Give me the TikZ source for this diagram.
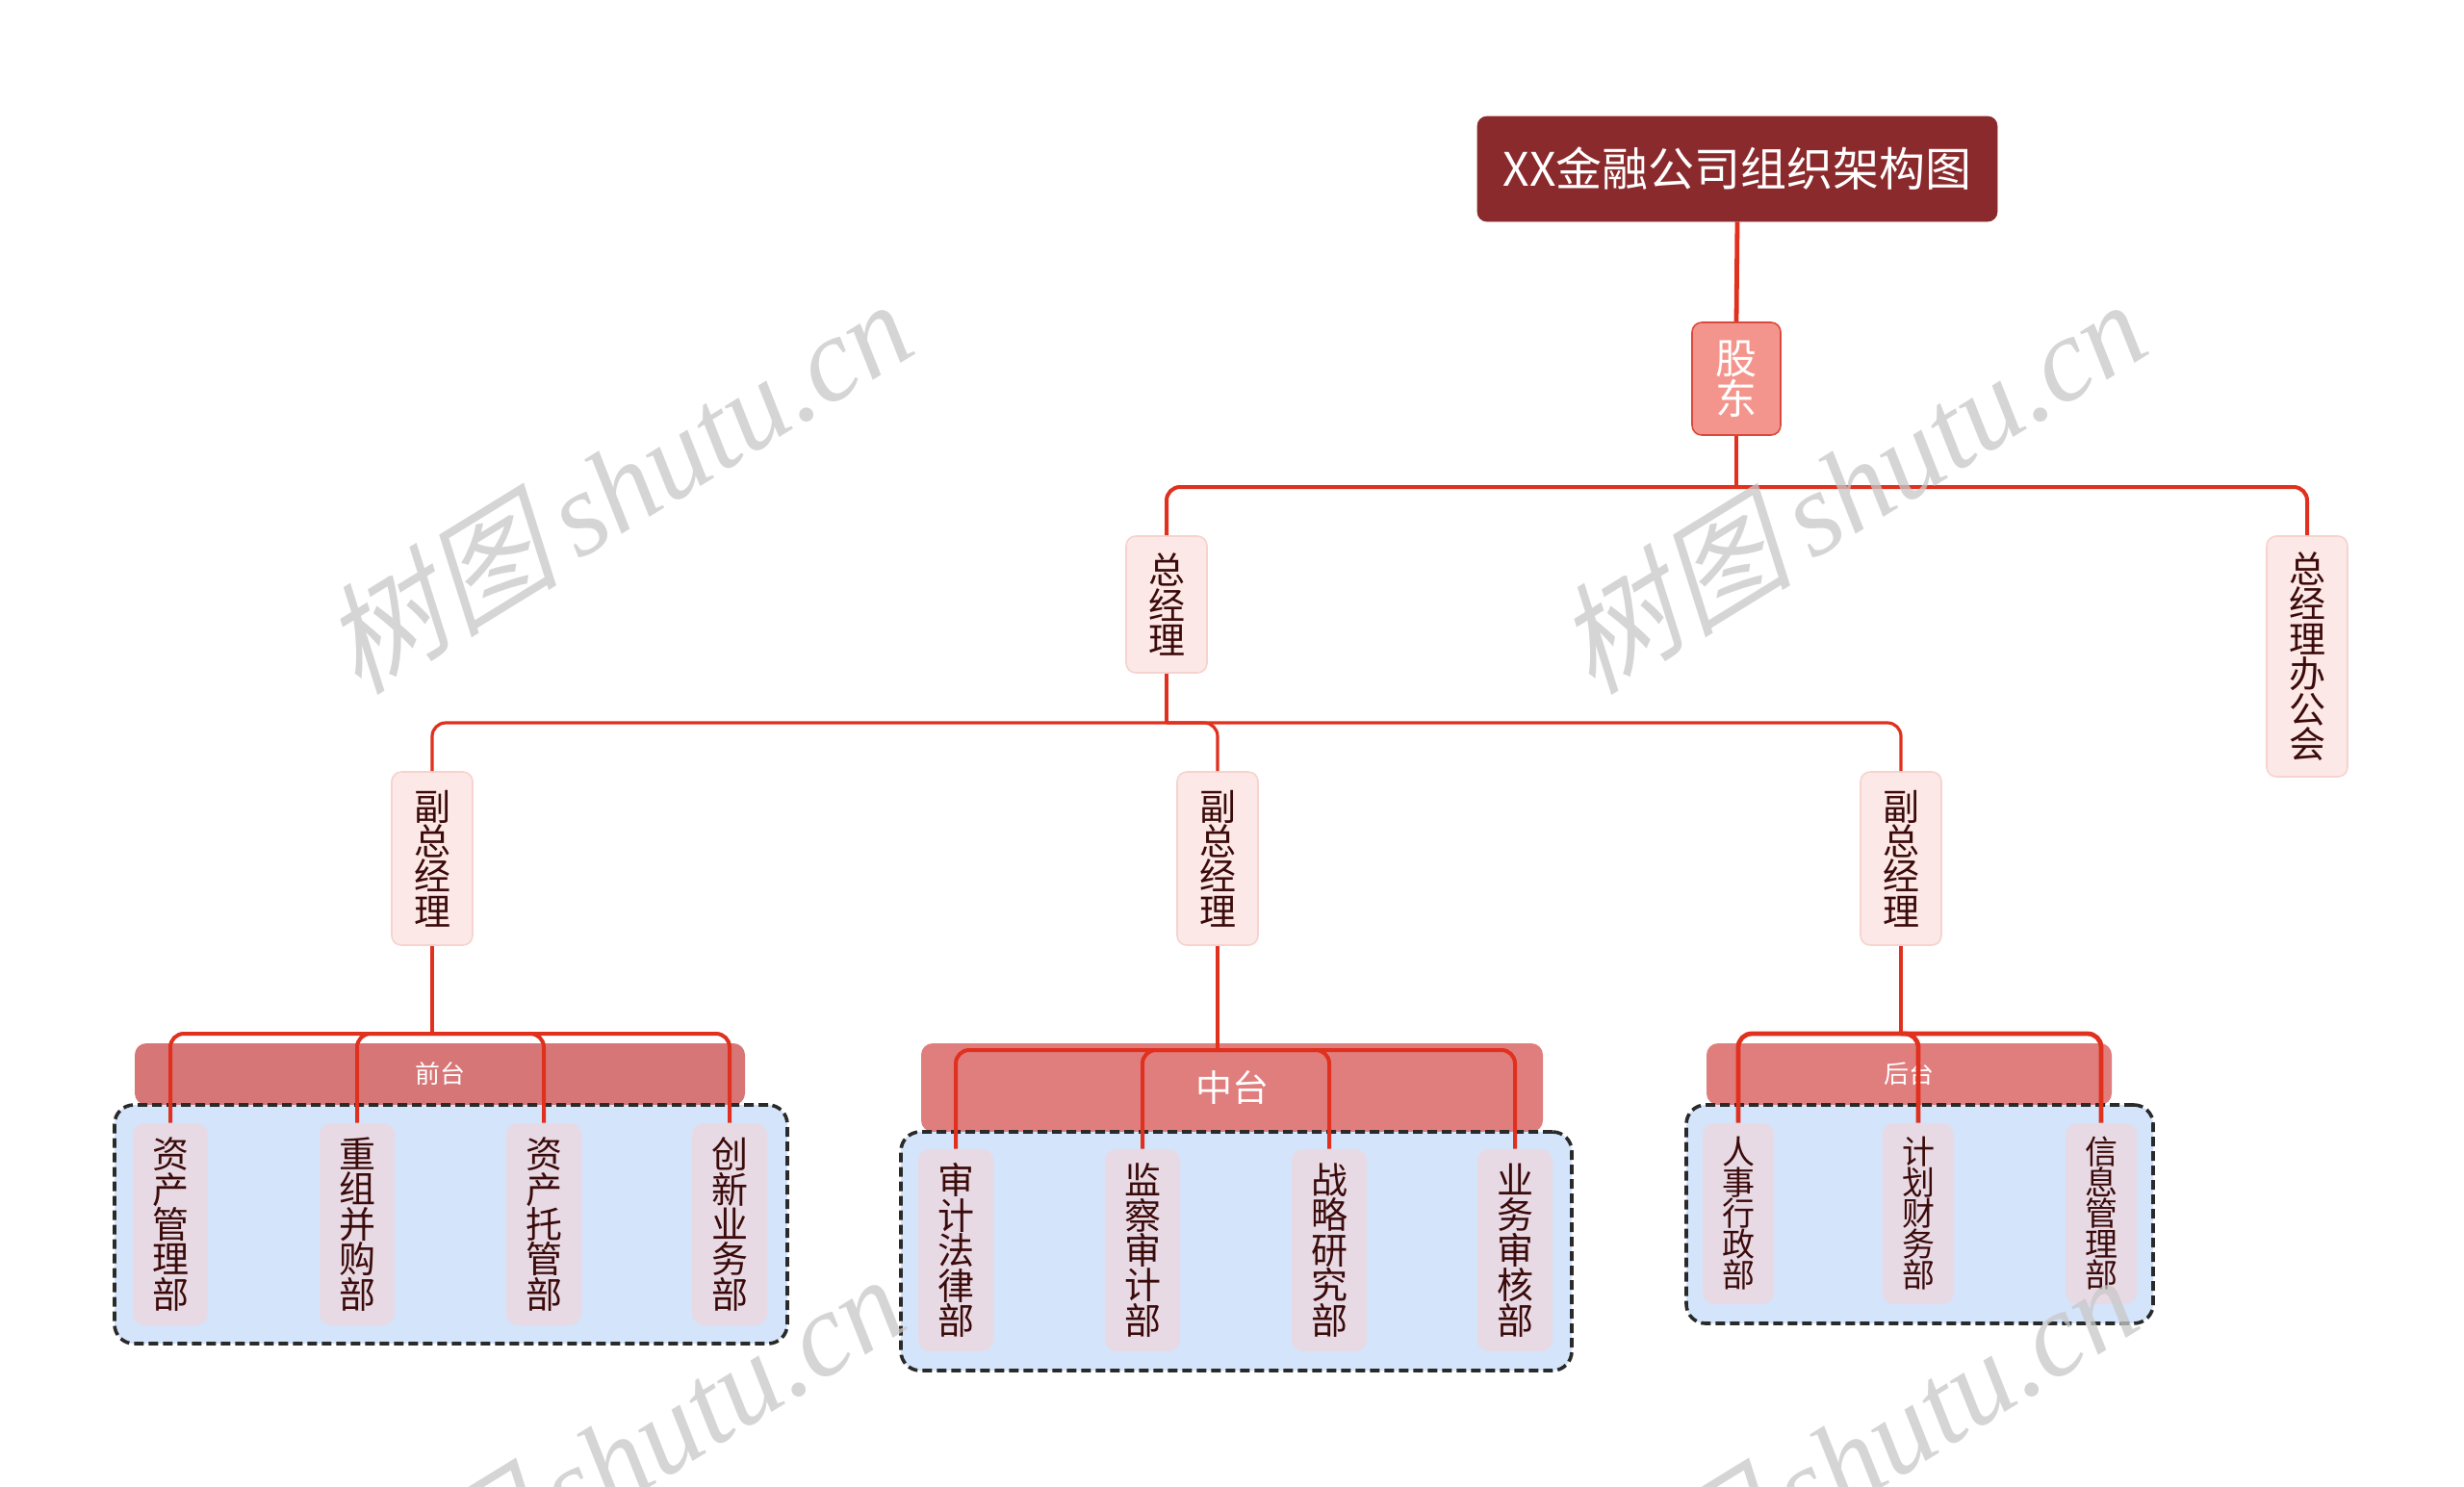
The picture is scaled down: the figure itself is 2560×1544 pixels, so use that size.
\documentclass[tikz,border=0pt]{standalone}
\usepackage{fontspec}
\newfontfamily\cjk{Noto Sans CJK SC}
\newfontfamily\wmcjk[FakeSlant=0.25]{Noto Sans CJK SC}
\newfontfamily\wmlat{Liberation Serif}
\definecolor{titlered}{HTML}{8B2A2C}
\definecolor{salmon}{HTML}{F4958D}
\definecolor{salmonborder}{HTML}{D94A3E}
\definecolor{pinkfill}{HTML}{FCE8E6}
\definecolor{pinkborder}{HTML}{F6D3CF}
\definecolor{deptfill}{HTML}{E8DAE4}
\definecolor{darktext}{HTML}{3B0B0B}
\definecolor{hdrA}{HTML}{D77676}
\definecolor{hdrB}{HTML}{E07D7D}
\definecolor{boxblue}{HTML}{D4E4FA}
\definecolor{dashgray}{HTML}{2A2A2A}
\definecolor{linered}{HTML}{E0301E}
\definecolor{wmgray}{HTML}{C8C8C8}
\begin{document}
\begin{tikzpicture}[x=0.5pt,y=-0.5pt,
  titlebox/.style={fill=titlered, draw=titlered, rounded corners=5pt, minimum width=270pt, minimum height=54.5pt, inner sep=0pt, text=white, font=\cjk\fontsize{24}{28}\selectfont},
  sharebox/.style={fill=salmon, draw=salmonborder, line width=0.8pt, rounded corners=5pt, minimum width=46pt, minimum height=58.5pt, inner sep=0pt, text=white, align=center, font=\cjk\fontsize{21.5}{21}\selectfont},
  mgrbox/.style={fill=pinkfill, draw=pinkborder, line width=0.8pt, rounded corners=5pt, minimum width=42pt, inner sep=0pt, text=darktext, align=center, font=\cjk\fontsize{19}{18.2}\selectfont},
  deptbox/.style={fill=deptfill, rounded corners=6pt, minimum width=39pt, inner sep=0pt, text=darktext, align=center, font=\cjk\fontsize{19}{18.2}\selectfont},
  smalldept/.style={deptbox, minimum width=37pt, font=\cjk\fontsize{17}{16}\selectfont},
  hdrbox/.style={rounded corners=6pt, inner sep=0pt, text=white},
  grpbox/.style={fill=boxblue, draw=dashgray, dash pattern=on 5pt off 2.5pt, line width=1.8pt, rounded corners=10pt, inner sep=0pt},
  conn/.style={draw=linered, line width=2pt, rounded corners=7pt},
  thinconn/.style={draw=linered, line width=1.6pt, rounded corners=7pt},
  wm/.style={text=wmgray, opacity=0.75, rotate=31.6, inner sep=0pt}
]
\useasboundingbox (0,0) rectangle (2560,1544);
\fill[white] (0,0) rectangle (2560,1544);

% top nodes
\node[titlebox] (title) at (1805,175.5) {XX金融公司组织架构图};
\node[sharebox] (share) at (1804,393.5) {股\\东};
\node[mgrbox, minimum height=71pt] (gm) at (1212,628) {总\\经\\理};
\node[mgrbox, minimum height=125pt] (gmo) at (2397,682) {总\\经\\理\\办\\公\\会};
\node[mgrbox, minimum height=90pt] (vp1) at (449,892) {副\\总\\经\\理};
\node[mgrbox, minimum height=90pt] (vp2) at (1265,892) {副\\总\\经\\理};
\node[mgrbox, minimum height=90pt] (vp3) at (1975,892) {副\\总\\经\\理};

% front group
\node[hdrbox, fill=hdrA, minimum width=317pt, minimum height=32pt, font=\cjk\fontsize{13}{15}\selectfont] (hfront) at (457,1116) {前台};
\node[grpbox, minimum width=349.5pt, minimum height=124pt] (gfront) at (468.5,1272) {};
\node[deptbox, minimum height=105pt] (f1) at (177,1272) {资\\产\\管\\理\\部};
\node[deptbox, minimum height=105pt] (f2) at (371,1272) {重\\组\\并\\购\\部};
\node[deptbox, minimum height=105pt] (f3) at (565,1272) {资\\产\\托\\管\\部};
\node[deptbox, minimum height=105pt] (f4) at (758,1272) {创\\新\\业\\务\\部};

% middle group
\node[hdrbox, fill=hdrB, minimum width=323pt, minimum height=46pt, font=\cjk\fontsize{19}{22}\selectfont] (hmid) at (1280,1130) {中台};
\node[grpbox, minimum width=348.5pt, minimum height=124pt] (gmid) at (1284.5,1300) {};
\node[deptbox, minimum height=105pt] (m1) at (993,1299) {审\\计\\法\\律\\部};
\node[deptbox, minimum height=105pt] (m2) at (1187,1299) {监\\察\\审\\计\\部};
\node[deptbox, minimum height=105pt] (m3) at (1381,1299) {战\\略\\研\\究\\部};
\node[deptbox, minimum height=105pt] (m4) at (1574,1299) {业\\务\\审\\核\\部};

% back group
\node[hdrbox, fill=hdrB, minimum width=210.5pt, minimum height=32pt, font=\cjk\fontsize{13}{15}\selectfont] (hback) at (1983.5,1116) {后台};
\node[grpbox, minimum width=242.5pt, minimum height=113.5pt] (gback) at (1994.5,1261.5) {};
\node[smalldept, minimum height=94pt] (b1) at (1806,1261) {人\\事\\行\\政\\部};
\node[smalldept, minimum height=94pt] (b2) at (1993,1261) {计\\划\\财\\务\\部};
\node[smalldept, minimum height=94pt] (b3) at (2183,1261) {信\\息\\管\\理\\部};

% junctions
\coordinate (j0) at (1804,506);
\coordinate (j1) at (1212,751);
\coordinate (jf) at (449,1074);
\coordinate (jm) at (1265,1091);
\coordinate (jb) at (1975,1074);

% connectors
\draw[conn, line width=2.4pt] (title.south) -- (share.north);
\draw[conn] (share.south) -- (j0);
\draw[conn] (j0) -| (gm.north);
\draw[conn] (j0) -| (gmo.north);
\draw[thinconn] (gm.south) -- (j1);
\draw[thinconn] (j1) -| (vp1.north);
\draw[thinconn] (j1) -| (vp2.north);
\draw[thinconn] (j1) -| (vp3.north);
\draw[thinconn] (vp1.south) -- (jf);
\draw[thinconn] (vp2.south) -- (jm);
\draw[conn] (vp3.south) -- (jb);
\foreach \n in {f1,f2,f3,f4} \draw[conn] (jf) -| (\n.north);
\foreach \n in {m1,m2,m3,m4} \draw[conn] (jm) -| (\n.north);
\foreach \n in {b1,b2,b3} \draw[conn, line width=2.4pt] (jb) -| (\n.north);

% watermarks
\begin{scope}
\clip (0,0) rectangle (2560,1544);
\node[wm] (wm1) at (640,504) {\wmcjk\fontsize{62}{64}\selectfont 树图\,\wmlat\itshape shutu.cn};
\node[wm] (wm2) at (1922,504) {\wmcjk\fontsize{62}{64}\selectfont 树图\,\wmlat\itshape shutu.cn};
\node[wm] (wm3) at (632,1517) {\wmcjk\fontsize{62}{64}\selectfont 树图\,\wmlat\itshape shutu.cn};
\node[wm] (wm4) at (1913,1517) {\wmcjk\fontsize{62}{64}\selectfont 树图\,\wmlat\itshape shutu.cn};
\end{scope}
\end{tikzpicture}
\end{document}
